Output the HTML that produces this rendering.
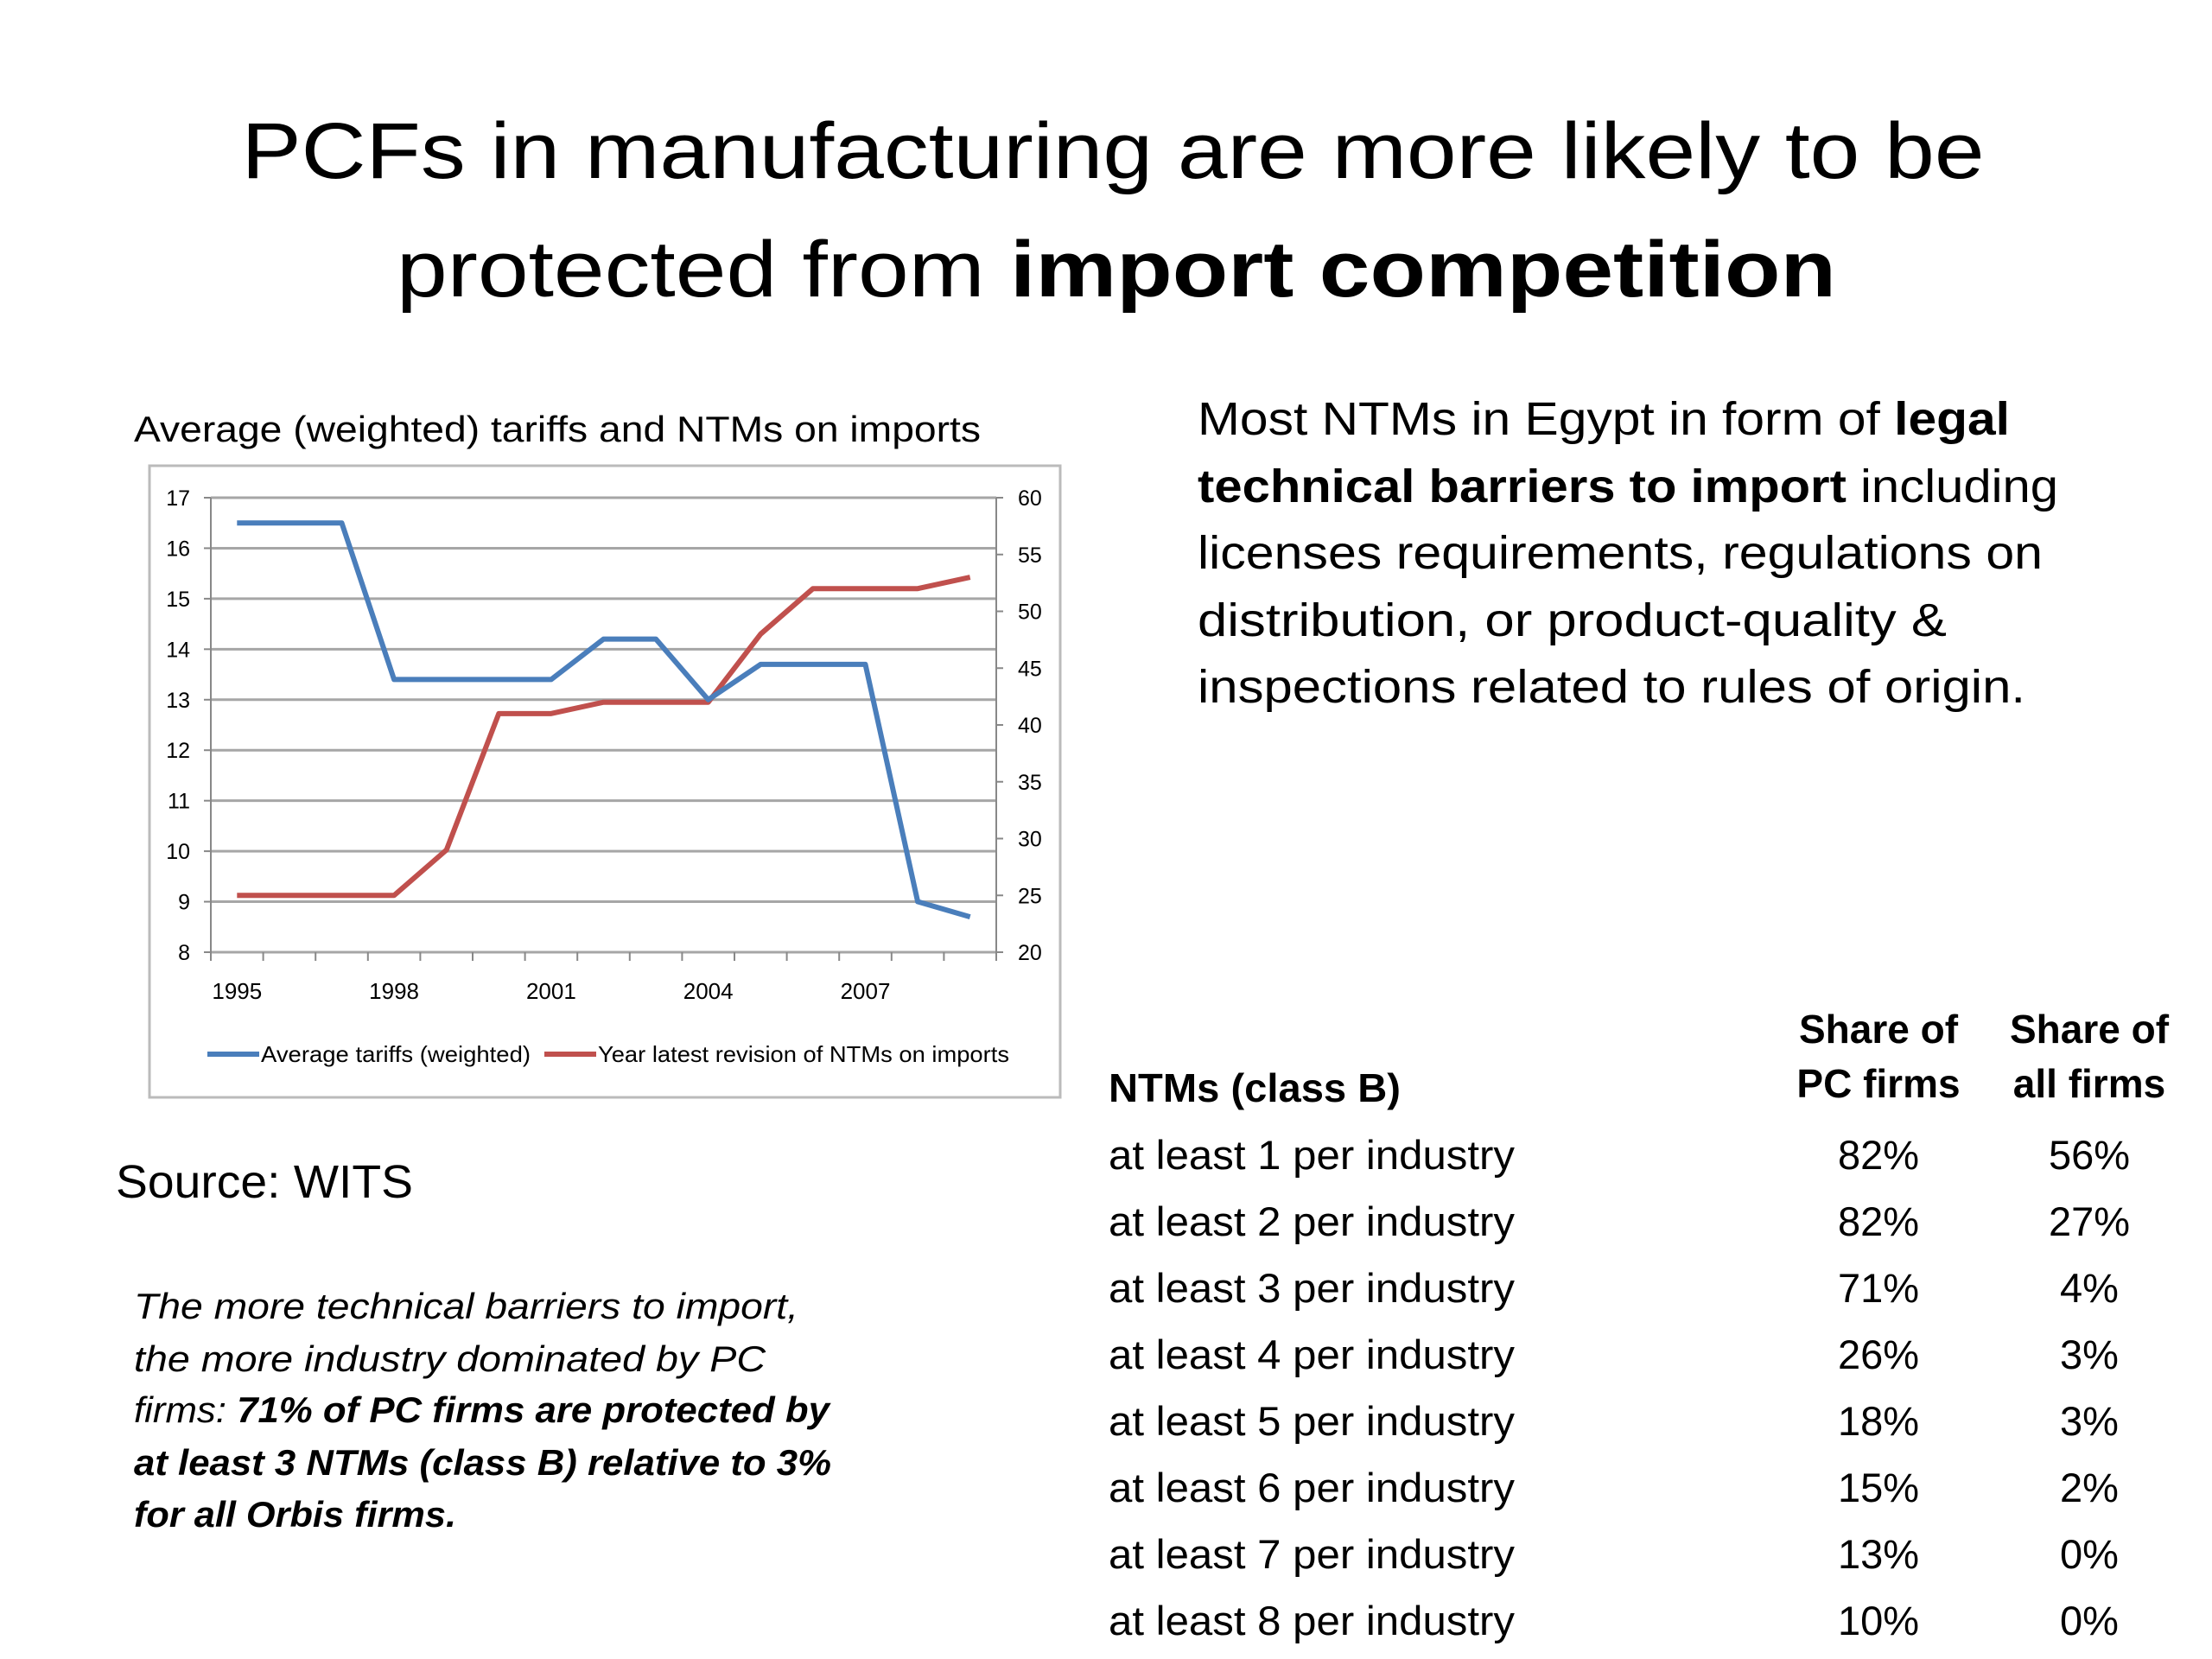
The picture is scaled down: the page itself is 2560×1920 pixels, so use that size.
<!DOCTYPE html>
<html><head><meta charset="utf-8"><style>
html,body{margin:0;padding:0;background:#fff;}
svg{display:block;}
text{font-family:"Liberation Sans",sans-serif;fill:#000;}
</style></head><body>
<svg id="s" width="2560" height="1920" viewBox="0 0 2560 1920">
<g font-size="92">
<text x="1288" y="206" text-anchor="middle" textLength="2017" lengthAdjust="spacingAndGlyphs">PCFs in manufacturing are more likely to be</text>
<text x="459" y="343" textLength="1666" lengthAdjust="spacingAndGlyphs">protected from <tspan font-weight="bold">import competition</tspan></text>
</g>
<text x="155" y="511" font-size="42" textLength="980" lengthAdjust="spacingAndGlyphs">Average (weighted) tariffs and NTMs on imports</text>
<g font-size="54">
<text x="1386" y="503" textLength="940" lengthAdjust="spacingAndGlyphs">Most NTMs in Egypt in form of <tspan font-weight="bold">legal</tspan></text>
<text x="1386" y="581" textLength="996" lengthAdjust="spacingAndGlyphs"><tspan font-weight="bold">technical barriers to import</tspan>  including</text>
<text x="1386" y="658" textLength="978" lengthAdjust="spacingAndGlyphs">licenses requirements, regulations on</text>
<text x="1386" y="736" textLength="867" lengthAdjust="spacingAndGlyphs">distribution, or product-quality &amp;</text>
<text x="1386" y="813" textLength="958" lengthAdjust="spacingAndGlyphs">inspections related to rules of origin.</text>
</g>
<text x="134" y="1386" font-size="54" textLength="344" lengthAdjust="spacingAndGlyphs">Source: WITS</text>
<g font-size="42" font-style="italic">
<text x="155" y="1526" textLength="769" lengthAdjust="spacingAndGlyphs">The more technical barriers to import,</text>
<text x="155" y="1587" textLength="731" lengthAdjust="spacingAndGlyphs">the more industry dominated  by PC</text>
<text x="155" y="1646" textLength="805" lengthAdjust="spacingAndGlyphs">firms: <tspan font-weight="bold">71% of PC firms are protected by</tspan></text>
<text x="155" y="1707" textLength="807" lengthAdjust="spacingAndGlyphs" font-weight="bold">at least 3 NTMs (class B) relative to 3%</text>
<text x="155" y="1767" textLength="373" lengthAdjust="spacingAndGlyphs" font-weight="bold">for all Orbis firms.</text>
</g>
<g id="tbl"></g>
<g id="chart"></g>
</svg>
<script>
const years = [1995,1996,1997,1998,1999,2000,2001,2002,2003,2004,2005,2006,2007,2008,2009];
const tariffs = [16.5,16.5,16.5,13.4,13.4,13.4,13.4,14.2,14.2,13.0,13.7,13.7,13.7,9.0,8.7];
const ntmYear = [25,25,25,25,29,41,41,42,42,42,48,52,52,52,53];
const leftTicks = [8,9,10,11,12,13,14,15,16,17];
const rightTicks = [20,25,30,35,40,45,50,55,60];
const xLabels = [1995,1998,2001,2004,2007];
const rowLabels = ["at least 1 per industry","at least 2 per industry","at least 3 per industry","at least 4 per industry","at least 5 per industry","at least 6 per industry","at least 7 per industry","at least 8 per industry"];
const pcShare = ["82%","82%","71%","26%","18%","15%","13%","10%"];
const allShare = ["56%","27%","4%","3%","3%","2%","0%","0%"];

const NS="http://www.w3.org/2000/svg";
function mk(tag,attrs,parent,txt){const e=document.createElementNS(NS,tag);for(const k in attrs)e.setAttribute(k,attrs[k]);if(txt!==undefined)e.textContent=txt;parent.appendChild(e);return e;}
const ch=document.getElementById('chart');
const L=244,R=1153,T=576,B=1102;
const n=years.length, step=(R-L)/n;
const xs=i=>L+step*(i+0.5);
const yl=v=>B-(v-8)/(17-8)*(B-T);
const yr=v=>B-(v-20)/(60-20)*(B-T);
let e;
e=mk('rect',{x:173,y:539,width:1054,height:731,fill:'#fff',stroke:'#bbb','stroke-width':3},ch);


leftTicks.forEach(v=>{
  e=mk('line',{x1:L,x2:R,y1:yl(v),y2:yl(v),stroke:'#a6a6a6','stroke-width':3},ch);
  
  
  mk('line',{x1:L-8,x2:L,y1:yl(v),y2:yl(v),stroke:'#888','stroke-width':2},ch);
  e=mk('text',{x:220,y:yl(v)+9,'font-size':25,'text-anchor':'end'},ch,v);
  
  
});
rightTicks.forEach(v=>{
  mk('line',{x1:R,x2:R+8,y1:yr(v),y2:yr(v),stroke:'#888','stroke-width':2},ch);
  e=mk('text',{x:1178,y:yr(v)+9,'font-size':25},ch,v);
  
  
});
mk('line',{x1:L,x2:L,y1:T,y2:B,stroke:'#888','stroke-width':2},ch);
mk('line',{x1:R,x2:R,y1:T,y2:B,stroke:'#888','stroke-width':2},ch);
for(let i=0;i<=n;i++) mk('line',{x1:L+step*i,x2:L+step*i,y1:B,y2:B+10,stroke:'#888','stroke-width':2},ch);
xLabels.forEach(y=>{
  const i=years.indexOf(y);
  e=mk('text',{x:xs(i),y:1156,'font-size':26,'text-anchor':'middle'},ch,y);
  
  
});
e=mk('polyline',{points:ntmYear.map((v,i)=>xs(i)+','+yr(v)).join(' '),fill:'none',stroke:'#c0504d','stroke-width':6,'stroke-linejoin':'round'},ch);


e=mk('polyline',{points:tariffs.map((v,i)=>xs(i)+','+yl(v)).join(' '),fill:'none',stroke:'#4a7ebb','stroke-width':6,'stroke-linejoin':'round'},ch);


let lg=mk('g',{},ch);


mk('line',{x1:240,x2:300,y1:1220,y2:1220,stroke:'#4a7ebb','stroke-width':6},lg);
mk('text',{x:302,y:1229,'font-size':26,textLength:312,lengthAdjust:'spacingAndGlyphs'},lg,'Average tariffs (weighted)');
lg=mk('g',{},ch);


mk('line',{x1:630,x2:690,y1:1220,y2:1220,stroke:'#c0504d','stroke-width':6},lg);
mk('text',{x:692,y:1229,'font-size':26,textLength:476,lengthAdjust:'spacingAndGlyphs'},lg,'Year  latest revision of NTMs on imports');

const tb=document.getElementById('tbl');
const hs={'font-size':46,'font-weight':'bold'};
e=mk('text',Object.assign({x:1283,y:1275,textLength:338,lengthAdjust:'spacingAndGlyphs'},hs),tb,'NTMs (class B)');


[[2174,'Share of','PC firms'],[2418,'Share of','all firms']].forEach(([x,a,b])=>{
  e=mk('text',Object.assign({x:x,y:1207,'text-anchor':'middle'},hs),tb,a);
  
  
  e=mk('text',Object.assign({x:x,y:1270,'text-anchor':'middle'},hs),tb,b);
  
  
});
rowLabels.forEach((lab,i)=>{
  const y=1353+i*77;
  e=mk('text',{x:1283,y:y,'font-size':47,textLength:470,lengthAdjust:'spacingAndGlyphs'},tb,lab);
  
  
  e=mk('text',{x:2174,y:y,'font-size':47,'text-anchor':'middle'},tb,pcShare[i]);
  
  
  e=mk('text',{x:2418,y:y,'font-size':47,'text-anchor':'middle'},tb,allShare[i]);
  
  
});
</script>
</body></html>
